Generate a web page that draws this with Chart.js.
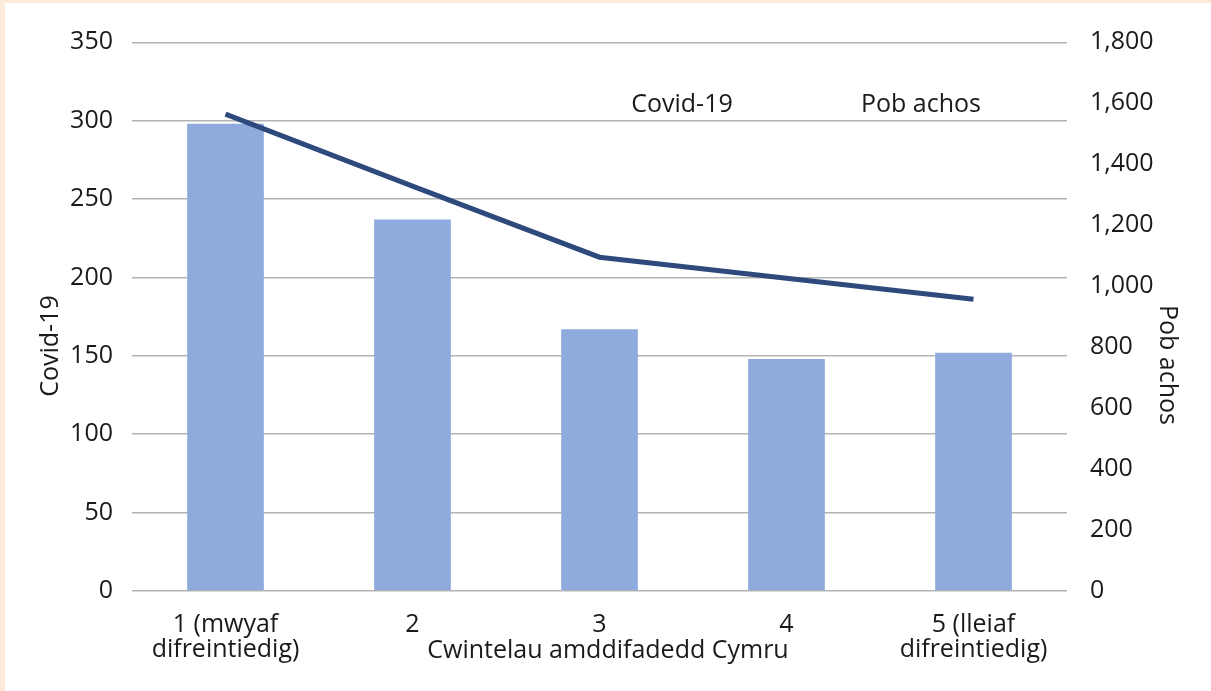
<!DOCTYPE html>
<html>
<head>
<meta charset="utf-8">
<script src="https://cdn.jsdelivr.net/npm/chart.js@4"></script>
<style>
  html, body { margin: 0; padding: 0; background: #FDEBD9; }
  #wrap { position: absolute; left: 5px; top: 3px; width: 1206px; height: 688px; background: #fff; }
</style>
</head>
<body>
<div id="wrap"><canvas id="chart" width="1206" height="688"></canvas></div>
<script>
// Chart data
const categories = [['1 (mwyaf', 'difreintiedig)'], '2', '3', '4', ['5 (lleiaf', 'difreintiedig)']];
const covidValues = [298, 237, 167, 148, 152];
const allCausesValues = [1564, 1328, 1095, 1026, 957];
const seriesNames = ['Covid-19', 'Pob achos'];
const xTitle = 'Cwintelau amddifadedd Cymru';
const yTitle = 'Covid-19';
const y1Title = 'Pob achos';

const FONT = { family: '"Open Sans", "Noto Sans", sans-serif', size: 25, lineHeight: 1.3 };
const TEXT = '#1a1a1a';

// legend + axis titles drawn as plain text (reference has no swatches,
// and its axis titles sit a bit off-centre)
const textLabels = {
    id: 'textLabels',
    afterDraw(chart) {
        const ctx = chart.ctx;
        ctx.save();
        ctx.font = FONT.size + 'px ' + FONT.family;
        ctx.fillStyle = TEXT;
        ctx.textAlign = 'center';
        ctx.textBaseline = 'middle';
        ctx.fillText(seriesNames[0], 677, 102);
        ctx.fillText(seriesNames[1], 916, 102);
        ctx.fillText(xTitle, 603, 648);

        ctx.save();
        ctx.translate(46, 343);
        ctx.rotate(-Math.PI / 2);
        ctx.fillText(yTitle, 0, 0);
        ctx.restore();

        ctx.save();
        ctx.translate(1162, 362);
        ctx.rotate(Math.PI / 2);
        ctx.fillText(y1Title, 0, 0);
        ctx.restore();
        ctx.restore();
    }
};

Chart.defaults.font = FONT;
Chart.defaults.color = TEXT;

document.addEventListener('DOMContentLoaded', function() {
    const ctx = document.getElementById('chart').getContext('2d');
    new Chart(ctx, {
        data: {
            labels: categories,
            datasets: [{
                type: 'line',
                label: seriesNames[1],
                data: allCausesValues,
                yAxisID: 'y1',
                borderColor: '#2E4A7D',
                borderWidth: 5,
                pointRadius: 0,
                tension: 0,
                order: 0
            }, {
                type: 'bar',
                label: seriesNames[0],
                data: covidValues,
                yAxisID: 'y',
                backgroundColor: '#8FAADC',
                categoryPercentage: 1,
                barPercentage: 0.41,
                order: 1
            }]
        },
        options: {
            responsive: false,
            animation: false,
            layout: { padding: { top: 39, left: 0, right: 0, bottom: 0 } },
            plugins: {
                legend: { display: false },
                tooltip: { enabled: false }
            },
            scales: {
                x: {
                    grid: { display: false },
                    border: { display: false },
                    ticks: {
                        padding: 13,
                        maxRotation: 0,
                        autoSkip: false,
                        font: { family: FONT.family, size: 25, lineHeight: 1.0 }
                    },
                    afterFit(scale) { scale.height = 100; }
                },
                y: {
                    position: 'left',
                    min: 0,
                    max: 350,
                    ticks: { stepSize: 50, padding: 19, font: FONT },
                    grid: { color: '#B3B3B3', lineWidth: 1.5, drawTicks: false },
                    border: { display: false },
                    afterFit(scale) { scale.width = 127; }
                },
                y1: {
                    position: 'right',
                    min: 0,
                    max: 1800,
                    ticks: {
                        stepSize: 200,
                        padding: 23,
                        font: FONT,
                        callback: v => v.toLocaleString('en-US')
                    },
                    grid: { display: false, drawTicks: false },
                    border: { display: false },
                    afterFit(scale) { scale.width = 144; }
                }
            }
        },
        plugins: [textLabels]
    });
});
</script>
</body>
</html>
